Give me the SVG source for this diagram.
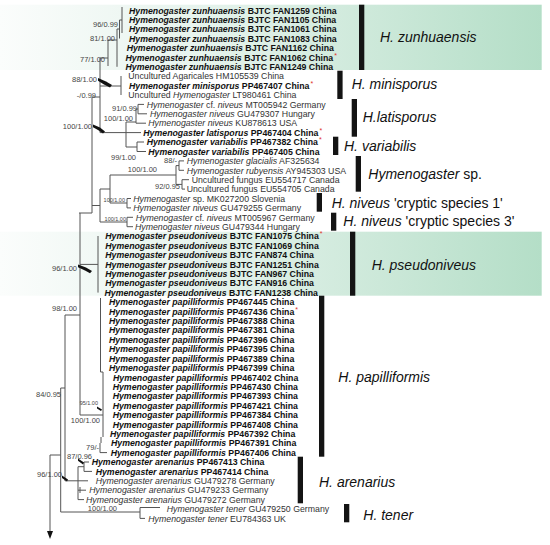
<svg xmlns="http://www.w3.org/2000/svg" width="550" height="545" viewBox="0 0 550 545">
<defs>
<linearGradient id="gband" x1="0" y1="0" x2="1" y2="0">
<stop offset="0" stop-color="#fbfdfc"/>
<stop offset="0.35" stop-color="#e8f4ee"/>
<stop offset="1" stop-color="#b4dec7"/>
</linearGradient>
<style>
.t{font-family:"Liberation Sans",Arial,sans-serif;font-size:8.75px;fill:#333}
.b{font-weight:bold;fill:#111}
.i{font-style:italic}
.s{font-family:"Liberation Sans",Arial,sans-serif;font-size:7.5px;fill:#444}
.ss{font-family:"Liberation Sans",Arial,sans-serif;font-size:5.5px;fill:#444}
.cl{font-family:"Liberation Sans",Arial,sans-serif;font-size:14px;fill:#111}
.ln{stroke:#555;stroke-width:1;fill:none}
.bar{fill:#141414}
.w{fill:#111}
.ast{fill:#e0302a;font-size:7px;font-weight:normal;font-style:normal}
</style>
</defs>
<rect width="550" height="545" fill="#fff"/>
<g id="bands">
<rect x="0" y="4.7" width="541.7" height="65.3" fill="url(#gband)"/>
<rect x="0" y="231.7" width="541.7" height="64" fill="url(#gband)"/>
</g>
<g id="connectors">
<path class="ln" d="M122,7V33M119.5,20H122M119.5,20V38.5M117,29H119.5M117,29V66.8M108,40H117M108,40V66M100,58H108M100,58V132.6M100,86H121M121,76V95M92,97H100M92,97V213M100,132.6H141M126,122V147M126,122H136M136,109V123.2M136,109H138M138,104.4V113.8M138,104.4H144M138,113.8H147M136,123.2H146M126,147H137M137,142V151.5M137,142H144M137,151.5H146"/>
<path class="ln" d="M79,213H92M92,205.5H100M100,189V222M100,189H110M110,175V203M110,175H176M176,165.6V184.4M176,165.6H179M179,160.9V170.3M179,160.9H184M179,170.3H184M176,184.4H182M182,179.7V189.1M182,179.7H189M182,189.1H185M110,203H127M127,198.5V207.9M127,198.5H131M127,207.9H131M100,222H127M127,217.3V226.7M127,217.3H133M127,226.7H133"/>
<path class="ln" d="M80,213V415M80,264.4H98M98,236V292.6M65,315H80M65,315V481M60.7,388H65M60.7,388V512M80,415H103M100.5,298V372H103M103,372V437M101,437V443M100,443V452.6M100,452.6H107"/>
<path class="ln" d="M65,480.8H88M78,466.7V499.6M78,466.7H84M84,462V471.4M84,462H89M84,471.4H92M80,487V493M78,490.2H86M78,499.6H84M60.7,512H140M140,507.5V518.4M140,507.5H160M140,518.4H145M50,455H60.7M50,455V532"/>
<polygon class="w" points="47,531 53,531 50,539"/>
<polygon class="w" points="98,78 106,81.5 112,85 110,87.5 104,84.5 98,80.8"/>
<polygon class="w" points="93,124.5 100,127.5 105,131.5 103,133.5 98,130 93,127.3"/>
<polygon class="w" points="78,264.5 86,267.5 92,271 90,273.3 85,270.5 78,267.3"/>
<polygon class="w" points="97,406.5 102,409.5 101,411 97,408.5"/>
<polygon class="w" points="78,458.5 84,462.5 83,464.5 78,460.8"/>
<polygon class="w" points="62,475.5 68,479.5 67,481.5 62,478"/>
</g>
<g id="support">
<text class="s" text-anchor="end" x="118" y="26.7">96/0.99</text>
<text class="s" text-anchor="end" x="115" y="40.7">81/1.00</text>
<text class="s" text-anchor="end" x="105" y="61.7">77/1.00</text>
<text class="s" text-anchor="end" x="97" y="81.7">88/1.00</text>
<text class="s" text-anchor="end" x="96" y="97.7">-/0.99</text>
<text class="s" text-anchor="end" x="137" y="110.7">91/0.99</text>
<text class="s" text-anchor="end" x="133" y="120.7">100/1.00</text>
<text class="s" text-anchor="end" x="92" y="128.7">100/1.00</text>
<text class="s" text-anchor="end" x="136" y="159.7">99/1.00</text>
<text class="s" text-anchor="end" x="177" y="162.7">88/-</text>
<text class="s" text-anchor="end" x="157" y="172">100/1.00</text>
<text class="s" text-anchor="end" x="180" y="188.7">92/0.95</text>
<text class="ss" text-anchor="end" x="125" y="202">100/1.00</text>
<text class="ss" text-anchor="end" x="126" y="221">100/1.00</text>
<text class="s" text-anchor="end" x="77" y="270.7">96/1.00</text>
<text class="s" text-anchor="end" x="77" y="310.7">98/1.00</text>
<text class="s" text-anchor="end" x="61" y="396.7">84/0.95</text>
<text class="ss" text-anchor="end" x="98" y="405">95/1.00</text>
<text class="s" text-anchor="end" x="100" y="422.7">100/1.00</text>
<text class="s" text-anchor="end" x="99" y="449.7">79/-</text>
<text class="s" text-anchor="end" x="92" y="458.7">87/0.96</text>
<text class="s" text-anchor="end" x="62" y="476.7">96/1.00</text>
<text class="s" text-anchor="end" x="117" y="510.6">100/1.00</text>
</g>
<g id="tips">
<g id="tip-zun1259"><text class="t b" x="129" y="13.5"><tspan class="i">Hymenogaster zunhuaensis</tspan> BJTC FAN1259 China</text></g>
<g id="tip-zun1105"><text class="t b" x="129" y="22.9"><tspan class="i">Hymenogaster zunhuaensis</tspan> BJTC FAN1105 China</text></g>
<g id="tip-zun1061"><text class="t b" x="129" y="32.3"><tspan class="i">Hymenogaster zunhuaensis</tspan> BJTC FAN1061 China</text></g>
<g id="tip-zun1083"><text class="t b" x="129" y="41.7"><tspan class="i">Hymenogaster zunhuaensis</tspan> BJTC FAN1083 China</text></g>
<g id="tip-zun1162"><text class="t b" x="126.7" y="51.1"><tspan class="i">Hymenogaster zunhuaensis</tspan> BJTC FAN1162 China</text></g>
<g id="tip-zun1062"><text class="t b" x="125.5" y="60.6"><tspan class="i">Hymenogaster zunhuaensis</tspan> BJTC FAN1062 China<tspan class="ast" dx="1" dy="-3">*</tspan></text></g>
<g id="tip-zun1249"><text class="t b" x="125.5" y="70"><tspan class="i">Hymenogaster zunhuaensis</tspan> BJTC FAN1249 China</text></g>
<g id="tip-agar"><text class="t" x="128.3" y="79.4">Uncultured Agaricales HM105539 China</text></g>
<g id="tip-mini"><text class="t b" x="129" y="88.8"><tspan class="i">Hymenogaster minisporus</tspan> PP467407 China<tspan class="ast" dx="1" dy="-3">*</tspan></text></g>
<g id="tip-unch"><text class="t" x="128.3" y="98.2">Uncultured <tspan class="i">Hymenogaster</tspan> LT980461 China</text></g>
<g id="tip-cfn1"><text class="t" x="146.7" y="107.6"><tspan class="i">Hymenogaster</tspan> cf. <tspan class="i">niveus</tspan> MT005942 Germany</text></g>
<g id="tip-niv307"><text class="t" x="150" y="117"><tspan class="i">Hymenogaster niveus</tspan> GU479307 Hungary</text></g>
<g id="tip-niv613"><text class="t" x="148.3" y="126.4"><tspan class="i">Hymenogaster niveus</tspan> KU878613 USA</text></g>
<g id="tip-lati"><text class="t b" x="143.3" y="135.8"><tspan class="i">Hymenogaster latisporus</tspan> PP467404 China<tspan class="ast" dx="1" dy="-3">*</tspan></text></g>
<g id="tip-var382"><text class="t b" x="146.7" y="145.2"><tspan class="i">Hymenogaster variabilis</tspan> PP467382 China<tspan class="ast" dx="1" dy="-3">*</tspan></text></g>
<g id="tip-var405"><text class="t b" x="148.3" y="154.7"><tspan class="i">Hymenogaster variabilis</tspan> PP467405 China</text></g>
<g id="tip-glac"><text class="t" x="186.7" y="164.1"><tspan class="i">Hymenogaster glacialis</tspan> AF325634</text></g>
<g id="tip-ruby"><text class="t" x="186.7" y="173.5"><tspan class="i">Hymenogaster rubyensis</tspan> AY945303 USA</text></g>
<g id="tip-uf717"><text class="t" x="191.7" y="182.9">Uncultured fungus EU554717 Canada</text></g>
<g id="tip-uf705"><text class="t" x="186.7" y="192.3">Uncultured fungus EU554705 Canada</text></g>
<g id="tip-sp"><text class="t" x="133.3" y="201.7"><tspan class="i">Hymenogaster</tspan> sp. MK027200 Slovenia</text></g>
<g id="tip-niv255"><text class="t" x="133.3" y="211.1"><tspan class="i">Hymenogaster niveus</tspan> GU479255 Germany</text></g>
<g id="tip-cfn2"><text class="t" x="135.7" y="220.5"><tspan class="i">Hymenogaster</tspan> cf. <tspan class="i">niveus</tspan> MT005967 Germany</text></g>
<g id="tip-niv344"><text class="t" x="135" y="229.9"><tspan class="i">Hymenogaster niveus</tspan> GU479344 Hungary</text></g>
<g id="tip-ps1075"><text class="t b" x="105.3" y="239.3"><tspan class="i">Hymenogaster pseudoniveus</tspan> BJTC FAN1075 China<tspan class="ast" dx="1" dy="-3">*</tspan></text></g>
<g id="tip-ps1069"><text class="t b" x="105.3" y="248.8"><tspan class="i">Hymenogaster pseudoniveus</tspan> BJTC FAN1069 China</text></g>
<g id="tip-ps874"><text class="t b" x="105.3" y="258.2"><tspan class="i">Hymenogaster pseudoniveus</tspan> BJTC FAN874 China</text></g>
<g id="tip-ps1251"><text class="t b" x="105.3" y="267.6"><tspan class="i">Hymenogaster pseudoniveus</tspan> BJTC FAN1251 China</text></g>
<g id="tip-ps967"><text class="t b" x="105.3" y="277"><tspan class="i">Hymenogaster pseudoniveus</tspan> BJTC FAN967 China</text></g>
<g id="tip-ps916"><text class="t b" x="105.3" y="286.4"><tspan class="i">Hymenogaster pseudoniveus</tspan> BJTC FAN916 China</text></g>
<g id="tip-ps1238"><text class="t b" x="104.5" y="295.8"><tspan class="i">Hymenogaster pseudoniveus</tspan> BJTC FAN1238 China</text></g>
<g id="tip-pa445"><text class="t b" x="109" y="305.2"><tspan class="i">Hymenogaster papilliformis</tspan> PP467445 China</text></g>
<g id="tip-pa436"><text class="t b" x="109" y="314.6"><tspan class="i">Hymenogaster papilliformis</tspan> PP467436 China<tspan class="ast" dx="1" dy="-3">*</tspan></text></g>
<g id="tip-pa388"><text class="t b" x="109" y="324"><tspan class="i">Hymenogaster papilliformis</tspan> PP467388 China</text></g>
<g id="tip-pa381"><text class="t b" x="109" y="333.4"><tspan class="i">Hymenogaster papilliformis</tspan> PP467381 China</text></g>
<g id="tip-pa396"><text class="t b" x="109" y="342.9"><tspan class="i">Hymenogaster papilliformis</tspan> PP467396 China</text></g>
<g id="tip-pa395"><text class="t b" x="109" y="352.3"><tspan class="i">Hymenogaster papilliformis</tspan> PP467395 China</text></g>
<g id="tip-pa389"><text class="t b" x="109" y="361.7"><tspan class="i">Hymenogaster papilliformis</tspan> PP467389 China</text></g>
<g id="tip-pa399"><text class="t b" x="109" y="371.1"><tspan class="i">Hymenogaster papilliformis</tspan> PP467399 China</text></g>
<g id="tip-pa402"><text class="t b" x="113" y="380.5"><tspan class="i">Hymenogaster papilliformis</tspan> PP467402 China</text></g>
<g id="tip-pa430"><text class="t b" x="112.7" y="389.9"><tspan class="i">Hymenogaster papilliformis</tspan> PP467430 China</text></g>
<g id="tip-pa393"><text class="t b" x="112.7" y="399.3"><tspan class="i">Hymenogaster papilliformis</tspan> PP467393 China</text></g>
<g id="tip-pa421"><text class="t b" x="112.7" y="408.7"><tspan class="i">Hymenogaster papilliformis</tspan> PP467421 China</text></g>
<g id="tip-pa384"><text class="t b" x="112.7" y="418.1"><tspan class="i">Hymenogaster papilliformis</tspan> PP467384 China</text></g>
<g id="tip-pa408"><text class="t b" x="112.7" y="427.5"><tspan class="i">Hymenogaster papilliformis</tspan> PP467408 China</text></g>
<g id="tip-pa392"><text class="t b" x="110" y="437"><tspan class="i">Hymenogaster papilliformis</tspan> PP467392 China</text></g>
<g id="tip-pa391"><text class="t b" x="111" y="446.4"><tspan class="i">Hymenogaster papilliformis</tspan> PP467391 China</text></g>
<g id="tip-pa406"><text class="t b" x="110.7" y="455.8"><tspan class="i">Hymenogaster papilliformis</tspan> PP467406 China</text></g>
<g id="tip-ar413"><text class="t b" x="91.7" y="465.2"><tspan class="i">Hymenogaster arenarius</tspan> PP467413 China</text></g>
<g id="tip-ar414"><text class="t b" x="95.7" y="474.6"><tspan class="i">Hymenogaster arenarius</tspan> PP467414 China</text></g>
<g id="tip-ar278"><text class="t" x="95.7" y="484"><tspan class="i">Hymenogaster arenarius</tspan> GU479278 Germany</text></g>
<g id="tip-ar233"><text class="t" x="89.3" y="493.4"><tspan class="i">Hymenogaster arenarius</tspan> GU479233 Germany</text></g>
<g id="tip-ar272"><text class="t" x="86" y="502.5"><tspan class="i">Hymenogaster arenarius</tspan> GU479272 Germany</text></g>
<g id="tip-te250"><text class="t" x="166.7" y="512.2"><tspan class="i">Hymenogaster tener</tspan> GU479250 Germany</text></g>
<g id="tip-te363"><text class="t" x="148.3" y="521.6"><tspan class="i">Hymenogaster tener</tspan> EU784363 UK</text></g>
</g>
<g id="clades">
<g id="cl-zun"><rect class="bar" x="359" y="4.7" width="5.3" height="65.3"/><text class="cl i" x="380" y="41.7">H. zunhuaensis</text></g>
<g id="cl-mini"><rect class="bar" x="337.3" y="70.7" width="5.3" height="28.3"/><text class="cl i" x="351.7" y="89.3">H. minisporus</text></g>
<g id="cl-lati"><rect class="bar" x="351.7" y="99" width="5.3" height="37.7"/><text class="cl i" x="362.7" y="122.3">H.latisporus</text></g>
<g id="cl-vari"><rect class="bar" x="333" y="136.7" width="5.3" height="18.3"/><text class="cl i" x="344" y="150.7">H. variabilis</text></g>
<g id="cl-sp"><rect class="bar" x="355.7" y="156" width="5.3" height="35.7"/><text class="cl" x="368.3" y="179.3"><tspan class="i">Hymenogaster</tspan> sp.</text></g>
<g id="cl-c1"><rect class="bar" x="316.7" y="193" width="5.3" height="18.7"/><text class="cl" x="331.7" y="207.7"><tspan class="i">H. niveus</tspan> 'cryptic species 1'</text></g>
<g id="cl-c3"><rect class="bar" x="331" y="212.7" width="5.3" height="18"/><text class="cl" x="343.3" y="226"><tspan class="i">H. niveus</tspan> 'cryptic species 3'</text></g>
<g id="cl-pseudo"><rect class="bar" x="350" y="231.7" width="5.3" height="64"/><text class="cl i" x="371.7" y="270">H. pseudoniveus</text></g>
<g id="cl-papil"><rect class="bar" x="319" y="295.7" width="5.3" height="161"/><text class="cl i" x="338.3" y="382.3">H. papilliformis</text></g>
<g id="cl-aren"><rect class="bar" x="297.7" y="456.7" width="5.3" height="46.6"/><text class="cl i" x="319" y="487.3">H. arenarius</text></g>
<g id="cl-tener"><rect class="bar" x="344" y="504" width="5.3" height="18.3"/><text class="cl i" x="363.3" y="520">H. tener</text></g>
</g>
</svg>
